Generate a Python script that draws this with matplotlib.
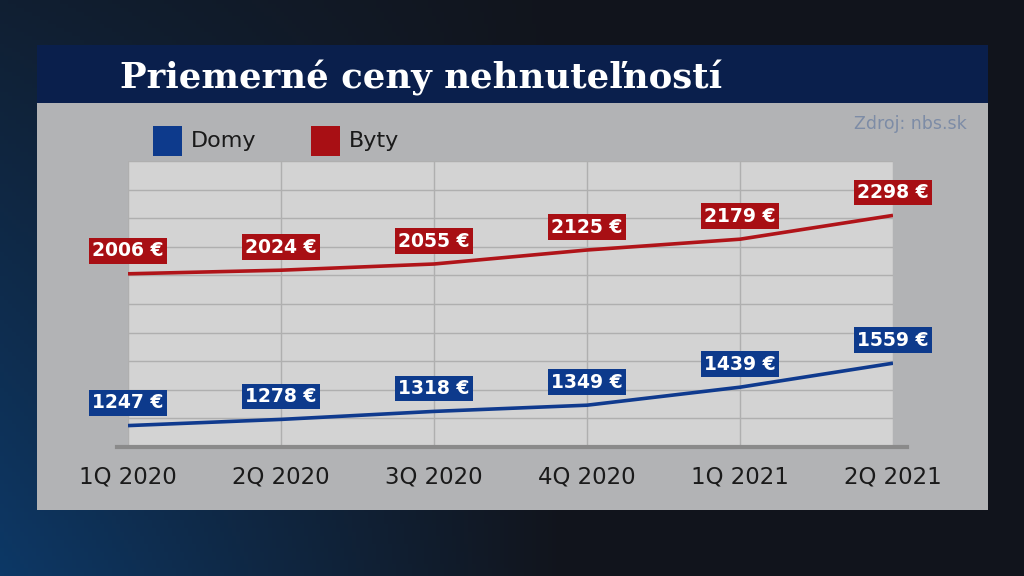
import numpy as np
import matplotlib
matplotlib.use('Agg')
from matplotlib import pyplot as plt
from matplotlib.patches import Rectangle
from matplotlib.lines import Line2D

quarters = ['1Q 2020', '2Q 2020', '3Q 2020', '4Q 2020', '1Q 2021', '2Q 2021']
domy = [1247, 1278, 1318, 1349, 1439, 1559]
byty = [2006, 2024, 2055, 2125, 2179, 2298]

blue = '#0d3a8c'
red = '#a80f14'

W, H = 1024, 576


def fx(px):
    return px / W


def fy(py):
    return 1 - py / H


fig = plt.figure(figsize=(10.24, 5.76), dpi=100)

# dark background with blue glow on the left
bg = fig.add_axes([0, 0, 1, 1])
gx, gy = np.meshgrid(np.linspace(0, 1, 256), np.linspace(0, 1, 144))
dark = np.array([0.07, 0.08, 0.11])
glow = np.array([0.05, 0.22, 0.40])
w = np.clip(1 - gx / 0.55, 0, 1) * (0.3 + 0.7 * gy)
img = dark[None, None, :] * (1 - w[..., None]) + glow[None, None, :] * w[..., None]
bg.imshow(img, aspect='auto', extent=[0, 1, 0, 1], origin='upper')
bg.set_axis_off()

# grey panel and title bar
fig.patches.append(Rectangle((fx(37), fy(510)), fx(988) - fx(37), fy(45) - fy(510),
                             transform=fig.transFigure, fc='#b2b3b5', ec='none', zorder=1))
fig.patches.append(Rectangle((fx(37), fy(103)), fx(988) - fx(37), fy(45) - fy(103),
                             transform=fig.transFigure, fc='#0a1f4c', ec='none', zorder=2))
fig.text(fx(120), fy(88), 'Priemerné ceny nehnuteľností', family='DejaVu Serif',
         weight='bold', fontsize=25.6, color='white', va='baseline', ha='left', zorder=3)
fig.text(fx(967), fy(124), 'Zdroj: nbs.sk', color='#7d8ca6', fontsize=12.5,
         ha='right', va='center', zorder=3)

# legend
for x0, col, name in [(153, blue, 'Domy'), (311, red, 'Byty')]:
    fig.patches.append(Rectangle((fx(x0), fy(156)), fx(29), 30 / H,
                                 transform=fig.transFigure, fc=col, ec='none', zorder=3))
    fig.text(fx(x0 + 38), fy(141), name, fontsize=16, color='#1a1a1a',
             ha='left', va='center', zorder=3)

ax = fig.add_axes([fx(128), fy(447), fx(893) - fx(128), fy(161) - fy(447)])
ax.set_facecolor('#d3d3d3')
ax.set_zorder(4)
x = np.arange(len(quarters))
ax.plot(x, byty, color='#b01419', lw=2.6, solid_capstyle='butt', zorder=3)
ax.plot(x, domy, color='#0f3a8e', lw=2.6, solid_capstyle='butt', zorder=3)

ax.set_xlim(0, 5)
ax.set_ylim(1140, 2570)
ax.set_yticks(np.linspace(1140, 2570, 11))
ax.set_yticklabels([])
ax.set_xticks(x)
ax.set_xticklabels(quarters, fontsize=16.5, color='#1a1a1a')
ax.tick_params(length=0, pad=13)
ax.grid(True, color='#afafaf', lw=1)
for s in ax.spines.values():
    s.set_visible(False)

for vals, col in [(byty, red), (domy, blue)]:
    for i, v in enumerate(vals):
        ax.annotate(f'{v} €', (i, v), xytext=(0, 16.5), textcoords='offset points',
                    ha='center', va='center', color='white', weight='bold', fontsize=13.5,
                    bbox=dict(boxstyle='square,pad=0.18', fc=col, ec='none'),
                    annotation_clip=False, zorder=5)

fig.lines.append(Line2D([fx(117), fx(907)], [fy(447), fy(447)], transform=fig.transFigure,
                        color='#8a8a8a', lw=3, zorder=10))

fig.savefig('out.png', dpi=100)
